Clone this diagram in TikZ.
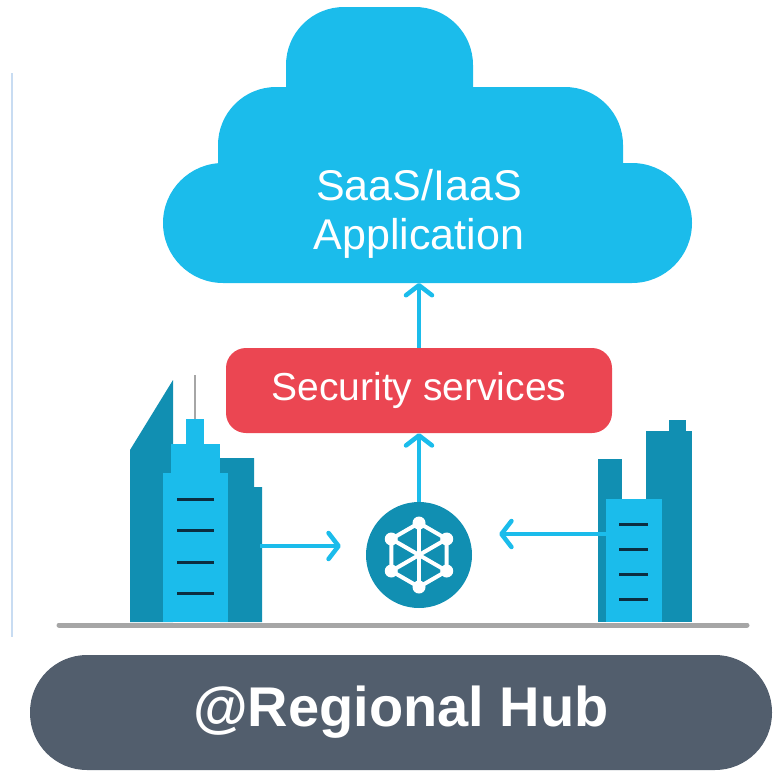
\documentclass[tikz,border=0pt]{standalone}
\usepackage{fontspec}
\setmainfont{Liberation Sans}
\usetikzlibrary{positioning,arrows.meta,calc}

\definecolor{skycyan}{RGB}{27,188,235}
\definecolor{deepteal}{RGB}{17,143,178}
\definecolor{alertred}{RGB}{235,70,82}
\definecolor{slate}{RGB}{82,94,109}
\definecolor{groundgray}{RGB}{166,166,166}
\definecolor{winnavy}{RGB}{12,45,64}
\definecolor{paleline}{RGB}{200,220,242}

\begin{document}
\begin{tikzpicture}[x=1pt, y=-1pt,
  flow/.style={draw=skycyan, line width=4.5pt,
               -{Straight Barb[length=10pt,width=26pt,round]}},
  secbox/.style={fill=alertred, rounded corners=20pt, minimum width=386pt,
                 minimum height=85pt, text=white,
                 font=\fontsize{39}{46}\selectfont},
  hubnode/.style={circle, fill=deepteal, minimum size=106pt, inner sep=0pt},
  hubbar/.style={fill=slate, rounded corners=57pt, minimum width=742pt,
                 minimum height=115pt, text=white,
                 font=\fontsize{56}{64}\selectfont\bfseries},
  towerdark/.style={fill=deepteal},
  towerlight/.style={fill=skycyan},
  window/.style={draw=winnavy, line width=3pt},
  mesh/.style={draw=white, line width=4pt},
]
  \useasboundingbox (0,0) rectangle (774,774);

  %% thin rule on the left
  \draw[paleline, line width=1.5pt] (12,73) -- (12,637);

  %% cloud built from three rounded blocks
  \fill[skycyan, rounded corners=58pt] (286,7) rectangle (473,150);
  \fill[skycyan, rounded corners=58pt] (218,87) rectangle (623,250);
  \fill[skycyan, rounded corners=60pt] (163,163) rectangle (692,283);
  \node[text=white, align=center, font=\fontsize{43}{49}\selectfont]
    (app) at (419,214) {SaaS/IaaS\\Application};
  \coordinate (cloudbase) at (419,283);

  %% security layer
  \node[secbox] (sec) at (419,390.5) {Security services};

  %% left buildings
  \fill[towerdark] (130,622) -- (130,450) -- (173,380) -- (173,622) -- cycle;
  \fill[towerdark] (220,458) -| (254,487) -| (262,622) -- (220,622) -- cycle;
  \draw[groundgray, line width=2pt] (195,375) -- (195,419);
  \fill[towerlight] (186,419) rectangle (204,444);
  \fill[towerlight] (171,444) rectangle (220,473);
  \fill[towerlight] (163,473) rectangle (228,622);
  \foreach \y in {499,530,562,593}
    \draw[window] (177,\y) -- (214,\y);
  \coordinate (lout) at (260,546);

  %% right buildings
  \fill[towerdark] (598,459) rectangle (622,622);
  \fill[towerdark] (646,431) rectangle (692,622);
  \fill[towerdark] (669,420) rectangle (686,431);
  \fill[towerlight] (606,499) rectangle (662,622);
  \foreach \y in {524,549,574,599}
    \draw[window] (619,\y) -- (648,\y);
  \coordinate (rout) at (606,534);

  %% ground
  \draw[groundgray, line width=5pt, line cap=round] (59,625) -- (747,625);

  %% hub with mesh icon
  \node[hubnode] (hub) at (419,555) {};
  \begin{scope}[shift={(hub.center)}]
    \draw[mesh, line join=round]
      (90:32) -- (30:32) -- (-30:32) -- (-90:32) -- (-150:32) -- (150:32) -- cycle;
    \foreach \a in {90,30,-30}
      \draw[mesh] (\a:32) -- (\a+180:32);
    \foreach \a in {90,30,-30,-90,-150,150}
      \fill[white] (\a:32) circle (6.5pt);
  \end{scope}

  %% flows
  \draw[flow, shorten >=25pt] (lout) -- (lout -| hub.west);
  \draw[flow, shorten >=27pt] (rout) -- (rout -| hub.east);
  \draw[flow] (hub.north) -- (sec.south);
  \draw[flow] (sec.north) -- (cloudbase);

  %% site label
  \node[hubbar] (region) at (401,712.5) {@Regional Hub};
\end{tikzpicture}
\end{document}
